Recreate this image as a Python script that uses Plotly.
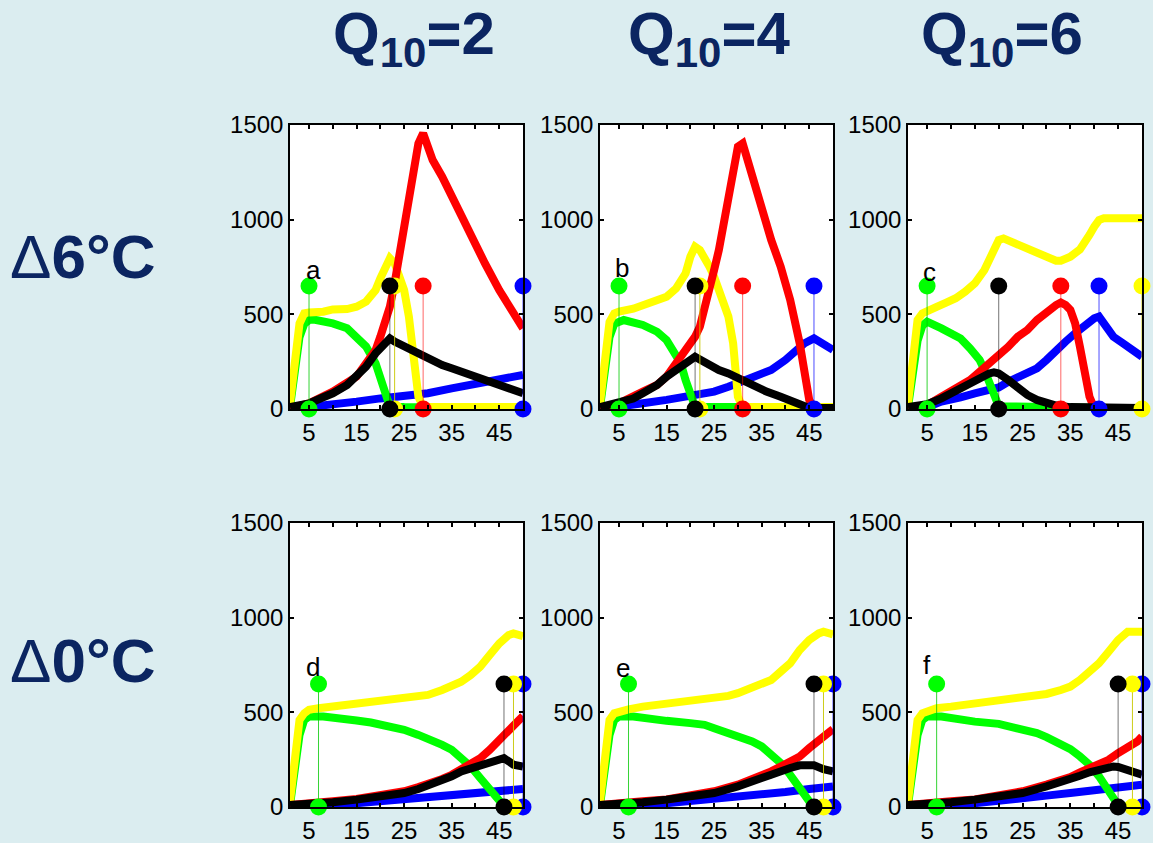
import plotly.graph_objects as go

# ---------------- data ----------------
# Panel a  (Q10=2, +6C)
a_green_x = [1, 2, 3, 4, 5, 6, 8, 10, 13, 15, 17, 19, 20, 21, 22, 25, 30, 40, 50]
a_green_y = [10, 200, 380, 450, 470, 472, 462, 452, 426, 382, 330, 241, 153, 65, 12, 10, 8, 8, 8]
a_yellow_x = [1, 2, 3, 4, 5, 8, 10, 13, 15, 17, 19, 20, 21, 22, 23, 24, 25, 26, 27, 28, 29, 35, 50]
a_yellow_y = [30, 276, 452, 505, 510, 514, 526, 528, 540, 567, 628, 690, 752, 796, 770, 700, 628, 488, 312, 65, 10, 10, 10]
a_red_x = [1, 5, 10, 15, 17, 19, 20, 21, 22, 23, 24, 25, 26, 27, 28, 29, 30, 31, 33, 35, 37, 40, 42, 45, 48, 50]
a_red_y = [5, 30, 92, 171, 241, 311, 382, 452, 540, 664, 804, 928, 1104, 1262, 1403, 1456, 1368, 1315, 1227, 1121, 1016, 875, 769, 628, 505, 426]
a_black_x = [1, 5, 8, 10, 13, 15, 17, 19, 21, 22, 23, 25, 27, 30, 33, 35, 37, 40, 43, 45, 48, 50]
a_black_y = [10, 30, 62, 83, 127, 171, 224, 294, 356, 373, 356, 329, 303, 268, 232, 215, 197, 171, 136, 118, 100, 83]
a_blue_x = [1, 5, 10, 15, 20, 25, 30, 35, 40, 45, 50]
a_blue_y = [0, 10, 20, 39, 56, 65, 83, 109, 136, 162, 180]
a_stems = {"green": 5, "black": 22, "yellow": 23, "red": 29, "blue": 50}

# Panel b  (Q10=4, +6C)
b_green_x = [1, 2, 3, 4, 5, 6, 10, 13, 15, 17, 18, 19, 20, 21, 30, 45, 50]
b_green_y = [10, 200, 380, 450, 465, 470, 444, 408, 364, 294, 241, 153, 65, 12, 10, 10, 5]
b_yellow_x = [1, 2, 3, 4, 5, 8, 10, 13, 15, 17, 19, 20, 21, 22, 23, 24, 25, 26, 27, 28, 29, 30, 31, 40, 50]
b_yellow_y = [30, 280, 460, 505, 515, 530, 549, 567, 593, 637, 716, 804, 857, 840, 804, 752, 699, 628, 558, 488, 347, 65, 10, 10, 10]
b_red_x = [1, 5, 10, 13, 15, 17, 19, 21, 22, 23, 24, 25, 26, 27, 28, 29, 30, 31, 32, 33, 35, 37, 39, 41, 43, 44, 45, 46, 50]
b_red_y = [5, 30, 92, 127, 171, 241, 311, 382, 435, 523, 628, 734, 840, 981, 1121, 1262, 1386, 1403, 1315, 1209, 1051, 893, 752, 576, 347, 171, 48, 5, 5]
b_black_x = [1, 5, 8, 10, 13, 15, 17, 19, 21, 22, 24, 26, 28, 30, 33, 36, 39, 42, 44, 45, 50]
b_black_y = [10, 30, 55, 83, 127, 171, 206, 250, 276, 262, 232, 206, 188, 162, 127, 92, 65, 30, 12, 5, 5]
b_blue_x = [1, 5, 10, 15, 20, 25, 28, 31, 34, 37, 40, 42, 44, 46, 48, 50]
b_blue_y = [0, 10, 30, 48, 65, 92, 118, 144, 171, 206, 259, 303, 347, 373, 347, 312]
b_stems = {"green": 5, "black": 21, "yellow": 22, "red": 31, "blue": 46}

# Panel c  (Q10=6, +6C)
c_green_x = [1, 2, 3, 4, 5, 8, 10, 12, 14, 16, 17, 18, 19, 20, 30, 37, 40, 50]
c_green_y = [10, 180, 360, 440, 461, 426, 400, 373, 320, 259, 206, 136, 65, 15, 10, 8, 3, 3]
c_yellow_x = [1, 2, 3, 4, 5, 7, 9, 11, 13, 15, 17, 18, 19, 20, 21, 23, 26, 29, 31, 32, 33, 35, 37, 38, 39, 40, 41, 42, 45, 50]
c_yellow_y = [30, 280, 470, 505, 520, 540, 562, 585, 620, 664, 734, 787, 857, 893, 901, 879, 849, 822, 796, 783, 783, 804, 843, 875, 919, 963, 998, 1007, 1007, 1007]
c_red_x = [1, 5, 8, 10, 12, 14, 16, 18, 20, 22, 24, 26, 28, 30, 32, 33, 34, 35, 36, 37, 38, 39, 40, 50]
c_red_y = [5, 20, 65, 92, 118, 153, 197, 241, 276, 329, 382, 417, 470, 514, 549, 562, 549, 523, 452, 329, 188, 65, 5, 5]
c_black_x = [1, 5, 8, 10, 12, 14, 16, 18, 19, 20, 22, 24, 26, 28, 30, 32, 35, 50]
c_black_y = [10, 25, 56, 83, 109, 144, 171, 188, 194, 188, 153, 109, 74, 48, 30, 18, 10, 5]
c_blue_x = [1, 5, 8, 10, 12, 15, 18, 20, 22, 24, 26, 28, 30, 32, 34, 36, 38, 40, 41, 42, 44, 46, 48, 50]
c_blue_y = [0, 10, 39, 48, 62, 83, 100, 114, 144, 171, 188, 215, 259, 312, 356, 400, 444, 479, 488, 452, 382, 347, 312, 276]
c_stems = {"green": 5, "black": 20, "red": 33, "blue": 41, "yellow": 50}

# Panel d  (Q10=2, +0C)
d_green_x = [1, 2, 3, 4, 5, 8, 10, 15, 18, 20, 23, 25, 28, 30, 33, 35, 37, 39, 41, 43, 44, 45, 46, 50]
d_green_y = [10, 200, 380, 460, 478, 478, 469, 457, 446, 437, 422, 408, 381, 364, 328, 302, 258, 214, 153, 91, 56, 21, 5, 3]
d_yellow_x = [1, 2, 3, 4, 5, 7, 10, 15, 20, 25, 28, 30, 33, 35, 37, 39, 41, 43, 45, 47, 48, 50]
d_yellow_y = [30, 250, 460, 495, 513, 522, 530, 545, 557, 569, 583, 592, 618, 636, 662, 697, 741, 803, 864, 908, 917, 903]
d_red_x = [1, 5, 10, 15, 20, 25, 28, 30, 33, 35, 37, 39, 41, 43, 45, 47, 49, 50]
d_red_y = [10, 15, 30, 42, 60, 83, 105, 118, 148, 170, 197, 223, 258, 302, 355, 408, 460, 481]
d_black_x = [1, 5, 10, 15, 20, 25, 28, 30, 33, 35, 37, 39, 41, 43, 45, 46, 47, 48, 50]
d_black_y = [10, 15, 25, 39, 56, 74, 95, 112, 135, 162, 188, 206, 223, 241, 255, 258, 241, 223, 214]
d_blue_x = [1, 5, 10, 15, 20, 25, 30, 35, 40, 45, 50]
d_blue_y = [0, 10, 15, 20, 30, 42, 51, 60, 74, 86, 95]
d_stems = {"green": 7, "blue": 50, "yellow": 48, "black": 46}

# Panel e  (Q10=4, +0C)
e_green_x = [1, 2, 3, 4, 5, 8, 10, 15, 20, 23, 25, 28, 30, 33, 35, 37, 39, 41, 43, 44, 45, 46, 50]
e_green_y = [10, 200, 380, 460, 478, 478, 469, 455, 443, 434, 416, 393, 372, 346, 320, 276, 232, 170, 109, 65, 30, 5, 3]
e_yellow_x = [1, 2, 3, 4, 5, 7, 10, 15, 20, 25, 28, 30, 33, 35, 37, 39, 41, 43, 45, 47, 48, 50]
e_yellow_y = [30, 250, 460, 495, 504, 516, 530, 545, 560, 574, 587, 601, 627, 645, 671, 715, 759, 829, 882, 917, 926, 912]
e_red_x = [1, 5, 10, 15, 20, 25, 30, 33, 35, 37, 39, 41, 43, 45, 47, 49, 50]
e_red_y = [10, 15, 30, 40, 60, 83, 118, 144, 162, 188, 214, 241, 267, 311, 346, 390, 411]
e_black_x = [1, 5, 10, 15, 20, 25, 30, 33, 35, 37, 39, 41, 43, 45, 46, 48, 50]
e_black_y = [10, 15, 25, 39, 56, 74, 109, 130, 153, 170, 193, 206, 220, 223, 220, 200, 188]
e_blue_x = [1, 5, 10, 15, 20, 25, 30, 35, 40, 45, 50]
e_blue_y = [0, 10, 15, 20, 30, 40, 56, 65, 79, 95, 109]
e_stems = {"green": 7, "blue": 50, "yellow": 48, "black": 46}

# Panel f  (Q10=6, +0C)
f_green_x = [1, 2, 3, 4, 5, 8, 10, 15, 20, 25, 28, 30, 33, 35, 37, 39, 41, 43, 44, 45, 46, 50]
f_green_y = [10, 200, 380, 460, 478, 478, 469, 451, 439, 411, 390, 369, 337, 306, 267, 223, 162, 91, 47, 10, 3, 3]
f_yellow_x = [1, 2, 3, 4, 5, 7, 10, 15, 20, 25, 28, 30, 33, 35, 37, 39, 41, 43, 45, 47, 50]
f_yellow_y = [30, 250, 460, 495, 504, 522, 530, 545, 557, 574, 587, 597, 618, 636, 671, 715, 759, 820, 882, 926, 926]
f_red_x = [1, 5, 10, 15, 20, 25, 30, 33, 35, 37, 39, 41, 43, 45, 47, 49, 50]
f_red_y = [10, 15, 30, 40, 60, 83, 118, 141, 158, 183, 206, 223, 249, 285, 311, 346, 372]
f_black_x = [1, 5, 10, 15, 20, 25, 30, 33, 35, 37, 39, 41, 43, 44, 45, 47, 50]
f_black_y = [10, 15, 25, 39, 56, 74, 109, 130, 148, 165, 183, 197, 209, 214, 211, 193, 170]
f_blue_x = [1, 5, 10, 15, 20, 25, 30, 35, 40, 45, 50]
f_blue_y = [0, 10, 15, 20, 30, 40, 60, 74, 91, 105, 118]
f_stems = {"green": 7, "blue": 50, "yellow": 48, "black": 45}

stem_low = 0
stem_high = 650

col_titles = ["Q<sub>10</sub>=2", "Q<sub>10</sub>=4", "Q<sub>10</sub>=6"]
row_titles = ["6°C", "0°C"]
panel_letters = ["a", "b", "c", "d", "e", "f"]
letter_pos = [(5.9, 734), (5.6, 743), (5.4, 725), (5.8, 741), (5.8, 733), (4.9, 750)]
x_tickvals = [5, 15, 25, 35, 45]
x_minor_tickvals = [10, 20, 30, 40, 50]
y_tickvals = [0, 500, 1000, 1500]

# ---------------- style ----------------
BG = "#dbedf0"
NAVY = "#0b2561"
FONT = "Liberation Sans, Arial, sans-serif"
COLORS = {"green": "#00ff00", "yellow": "#ffff00", "red": "#ff0000",
          "black": "#000000", "blue": "#0000ff"}
STEM_COLORS = {"green": "rgba(0,200,0,0.8)", "yellow": "rgba(200,200,0,0.9)",
               "red": "rgba(255,0,0,0.6)", "black": "rgba(0,0,0,0.55)",
               "blue": "rgba(0,0,255,0.7)"}

W, H = 1153, 843
col_px = [(290, 523), (600, 833), (908, 1142)]
row_px = [(125, 409), (523, 807)]

panels = [
    {"green": (a_green_x, a_green_y), "yellow": (a_yellow_x, a_yellow_y), "red": (a_red_x, a_red_y),
     "black": (a_black_x, a_black_y), "blue": (a_blue_x, a_blue_y), "stems": a_stems},
    {"green": (b_green_x, b_green_y), "yellow": (b_yellow_x, b_yellow_y), "red": (b_red_x, b_red_y),
     "black": (b_black_x, b_black_y), "blue": (b_blue_x, b_blue_y), "stems": b_stems},
    {"green": (c_green_x, c_green_y), "yellow": (c_yellow_x, c_yellow_y), "red": (c_red_x, c_red_y),
     "black": (c_black_x, c_black_y), "blue": (c_blue_x, c_blue_y), "stems": c_stems},
    {"green": (d_green_x, d_green_y), "yellow": (d_yellow_x, d_yellow_y), "red": (d_red_x, d_red_y),
     "black": (d_black_x, d_black_y), "blue": (d_blue_x, d_blue_y), "stems": d_stems},
    {"green": (e_green_x, e_green_y), "yellow": (e_yellow_x, e_yellow_y), "red": (e_red_x, e_red_y),
     "black": (e_black_x, e_black_y), "blue": (e_blue_x, e_blue_y), "stems": e_stems},
    {"green": (f_green_x, f_green_y), "yellow": (f_yellow_x, f_yellow_y), "red": (f_red_x, f_red_y),
     "black": (f_black_x, f_black_y), "blue": (f_blue_x, f_blue_y), "stems": f_stems},
]

fig = go.Figure()
layout = dict(width=W, height=H, margin=dict(l=0, r=0, t=0, b=0, autoexpand=False),
              paper_bgcolor=BG, plot_bgcolor="white", showlegend=False,
              font=dict(family=FONT, color="black"))
annotations = []

curve_order = ["blue", "green", "yellow", "red", "black"]
stem_order = ["blue", "red", "yellow", "black", "green"]

for i, p in enumerate(panels):
    r, c = divmod(i, 3)
    n = "" if i == 0 else str(i + 1)
    xa, ya = "x" + n, "y" + n
    x0, x1 = col_px[c]
    y0, y1 = row_px[r]
    axis_common = dict(showline=True, linecolor="black", linewidth=1.5, mirror="ticks",
                       ticks="inside", ticklen=4, tickwidth=1.5, tickcolor="black",
                       showgrid=False, zeroline=False, automargin=False,
                       tickfont=dict(size=24, family=FONT, color="black"))
    layout["xaxis" + n] = dict(domain=[x0 / W, x1 / W], range=[1, 50], anchor=ya,
                               tickmode="array", tickvals=x_tickvals,
                               minor=dict(tickmode="array", tickvals=x_minor_tickvals,
                                          ticks="inside", ticklen=4, tickwidth=1.5,
                                          tickcolor="black", showgrid=False),
                               ticklabelstandoff=1, **axis_common)
    layout["yaxis" + n] = dict(domain=[1 - y1 / H, 1 - y0 / H], range=[0, 1500], anchor=xa,
                               tickmode="array", tickvals=y_tickvals, **axis_common)
    for key in curve_order:
        xs, ys = p[key]
        fig.add_trace(go.Scatter(x=xs, y=ys, mode="lines", xaxis=xa, yaxis=ya,
                                 line=dict(color=COLORS[key], width=8), hoverinfo="skip"))
    for key in stem_order:
        if key not in p["stems"]:
            continue
        sx = p["stems"][key]
        fig.add_trace(go.Scatter(x=[sx, sx], y=[stem_low, stem_high], mode="lines",
                                 xaxis=xa, yaxis=ya, line=dict(color=STEM_COLORS[key], width=1),
                                 hoverinfo="skip"))
        fig.add_trace(go.Scatter(x=[sx, sx], y=[stem_low, stem_high], mode="markers",
                                 xaxis=xa, yaxis=ya, cliponaxis=False,
                                 marker=dict(color=COLORS[key], size=17, line=dict(width=0)),
                                 hoverinfo="skip"))
    lx, ly = letter_pos[i]
    annotations.append(dict(x=lx, y=ly, xref=xa, yref=ya, text=panel_letters[i], showarrow=False,
                            xanchor="center", yanchor="middle",
                            font=dict(size=26, family=FONT, color="black")))

title_x = [414, 709, 1002]
for t, xc in zip(col_titles, title_x):
    annotations.append(dict(x=xc / W, y=1 - 38 / H, xref="paper", yref="paper",
                            text="<b>" + t + "</b>", showarrow=False,
                            xanchor="center", yanchor="middle",
                            font=dict(size=60, family=FONT, color=NAVY)))
row_y = [256, 660]
for t, yc in zip(row_titles, row_y):
    annotations.append(dict(x=8 / W, y=1 - yc / H, xref="paper", yref="paper",
                            text="Δ<b>" + t + "</b>", showarrow=False,
                            xanchor="left", yanchor="middle",
                            font=dict(size=62, family=FONT, color=NAVY)))

layout["annotations"] = annotations
fig.update_layout(**layout)
fig.write_html("out.html", config={"displayModeBar": False},
               post_script="document.body.style.margin='0';")
